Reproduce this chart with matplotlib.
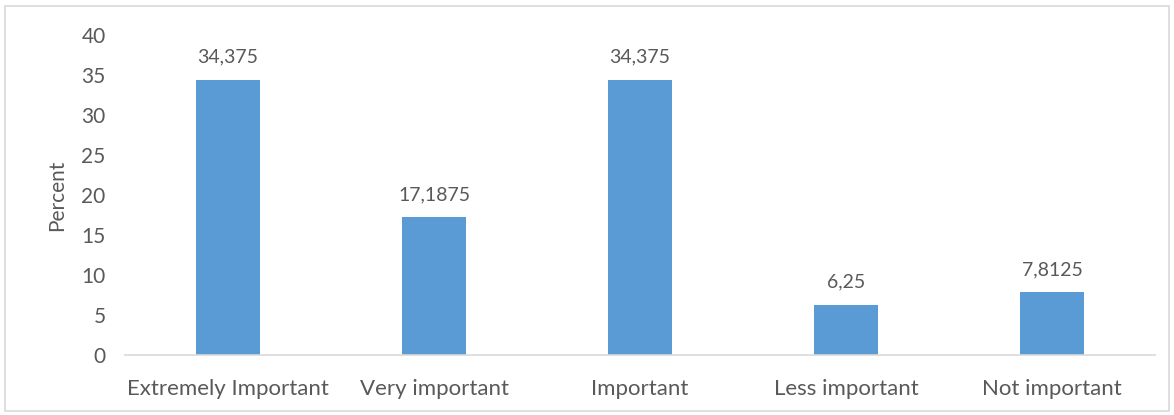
import matplotlib.pyplot as plt
from matplotlib.patches import Rectangle

# data
categories = ['Extremely Important', 'Very important', 'Important',
              'Less important', 'Not important']
percent = [34.375, 17.1875, 34.375, 6.25, 7.8125]
value_labels = ['34,375', '17,1875', '34,375', '6,25', '7,8125']

plt.rcParams['font.family'] = ['Lato', 'DejaVu Sans']
text_col = '#595959'

fig = plt.figure(figsize=(11.74, 4.15), dpi=100)
ax = fig.add_axes([0.1065, 0.1446, 0.8775, 0.7711])

x = range(len(categories))
ax.bar(x, percent, width=0.31, color='#5B9BD5')

# value labels above the bars
for i, v in enumerate(percent):
    ax.text(i, v + 1.8, value_labels[i], ha='center', va='bottom',
            fontsize=14, color=text_col)

ax.set_ylim(0, 40)
ax.set_xlim(-0.5, len(categories) - 0.5)
ax.set_yticks(range(0, 41, 5))
ax.set_xticks(list(x))
ax.set_xticklabels(categories)
ax.tick_params(axis='both', length=0, labelsize=15, colors=text_col)
ax.tick_params(axis='y', pad=14)
ax.tick_params(axis='x', pad=17, labelsize=16)
ax.set_ylabel('Percent', fontsize=15, color=text_col, labelpad=10)

for s in ['top', 'right', 'left']:
    ax.spines[s].set_visible(False)
ax.spines['bottom'].set_color('#D9D9D9')
ax.spines['bottom'].set_linewidth(1.2)

# light frame around the chart area
fig.patches.append(Rectangle((5 / 1174, 4 / 415), 1164 / 1174, 405 / 415,
                             transform=fig.transFigure, fill=False,
                             edgecolor='#D9D9D9', linewidth=1.2))

fig.savefig('out.png', dpi=100)
